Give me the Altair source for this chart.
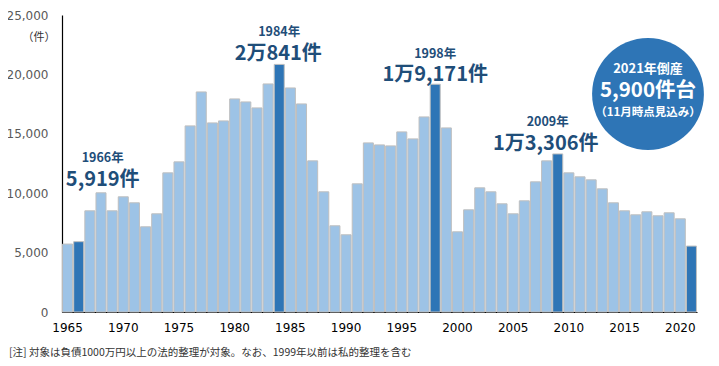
import altair as alt
import pandas as pd

years = list(range(1965, 2022))
counts = [5718, 5919, 8518, 10032, 8518, 9696, 9191, 7173, 8266, 11713,
          12638, 15666, 18525, 15918, 16086, 17936, 17684, 17180, 19198, 20841,
          18861, 17516, 12722, 10116, 7257, 6500, 10788, 14235, 14067, 13983,
          15161, 14572, 16422, 19171, 15497, 6752, 8602, 10452, 10116, 9107,
          8266, 9359, 10957, 12722, 13306, 11713, 11377, 11125, 10368, 9191,
          8518, 8182, 8434, 8098, 8350, 7845, 5550]
highlight_years = [1966, 1984, 1998, 2009, 2021]
tick_years = [1965, 1970, 1975, 1980, 1985, 1990, 1995, 2000, 2005, 2010, 2015, 2020]
y_ticks = [0, 5000, 10000, 15000, 20000, 25000]

ann_years = [1966, 1984, 1998, 2009]
ann_year_labels = ["1966年", "1984年", "1998年", "2009年"]
ann_value_labels = ["5,919件", "2万841件", "1万9,171件", "1万3,306件"]

bubble_lines = ["2021年倒産", "5,900件台", "（11月時点見込み）"]
unit_label = "（件）"
note_text = "[注]  対象は負債1000万円以上の法的整理が対象。なお、1999年以前は私的整理を含む"

df = pd.DataFrame({"year": years, "count": counts})
df["hl"] = df["year"].isin(highlight_years)

W, H = 635, 297
FONT = "Noto Sans CJK JP"
NAVY = "#1F4E79"

x_enc = alt.X("year:O",
              scale=alt.Scale(paddingInner=0.1, paddingOuter=0.05),
              axis=alt.Axis(values=tick_years, labelAngle=0, title=None, ticks=False,
                            labelFont="DejaVu Sans", labelFontSize=12, labelColor="#000000",
                            labelPadding=10, domainColor="#000000", domainWidth=1.2))
y_enc = alt.Y("count:Q",
              scale=alt.Scale(domain=[0, 25000], nice=False),
              axis=alt.Axis(values=y_ticks, format=",.0f", title=None, ticks=False, grid=False,
                            labelFont="DejaVu Sans", labelFontSize=12, labelColor="#595959",
                            labelPadding=14, domainColor="#000000", domainWidth=1.2))

bars = alt.Chart(df).mark_bar(stroke="#BFBFBF", strokeWidth=1).encode(
    x=x_enc,
    y=y_enc,
    color=alt.condition(alt.datum.hl, alt.value("#2E75B6"), alt.value("#9DC3E6")),
)

ann_df = pd.DataFrame({
    "year": ann_years,
    "ylab": ann_year_labels,
    "vlab": ann_value_labels,
    "count": [counts[years.index(y)] for y in ann_years],
})
offsets = {1966: (24, -84, 24, -62),
           1984: (0, -32, -1, -10),
           1998: (0, -30, 0, -9),
           2009: (-10, -32, -12, -10)}

layers = [bars]
for yr in ann_years:
    sdx, sdy, bdx, bdy = offsets[yr]
    base = alt.Chart(ann_df).transform_filter(alt.datum.year == yr)
    layers.append(base.mark_text(font=FONT, fontSize=12.5, fontWeight="bold", color=NAVY,
                                 dx=sdx, dy=sdy, baseline="middle", align="center")
                  .encode(x="year:O", y="count:Q", text="ylab:N"))
    layers.append(base.mark_text(font=FONT, fontSize=20, fontWeight="bold", color=NAVY,
                                 dx=bdx, dy=bdy, baseline="middle", align="center")
                  .encode(x="year:O", y="count:Q", text="vlab:N"))

bubble = alt.Chart(pd.DataFrame({"k": [0]})).mark_circle(color="#2E75B6", opacity=1).encode(
    x=alt.value(586), y=alt.value(79), size=alt.value(12500))
layers.append(bubble)

bub_df = pd.DataFrame({"t": bubble_lines, "i": [0, 1, 2]})
for i, (fs, yy) in enumerate([(13, 54), (20.5, 76), (11.5, 98)]):
    layers.append(alt.Chart(bub_df).transform_filter(alt.datum.i == i)
                  .mark_text(font=FONT, fontSize=fs, fontWeight="bold", color="white",
                             align="center", baseline="middle")
                  .encode(x=alt.value(586), y=alt.value(yy), text="t:N"))

unit = alt.Chart(pd.DataFrame({"t": [unit_label]})).mark_text(
    font=FONT, fontSize=11, color="#333333", align="center", baseline="middle").encode(
    x=alt.value(-23), y=alt.value(23), text="t:N")
note = alt.Chart(pd.DataFrame({"t": [note_text]})).mark_text(
    font=FONT, fontSize=10.5, color="#333333", align="left", baseline="middle").encode(
    x=alt.value(-53), y=alt.value(338), text="t:N")
layers += [unit, note]

chart = alt.layer(*layers).properties(
    width=W, height=H,
    autosize=alt.AutoSizeParams(type="none"),
    padding={"left": 54, "top": 7, "right": 14, "bottom": 46},
).configure_view(stroke=None)

chart.save("out.html", embed_options={"renderer": "svg", "actions": False})
